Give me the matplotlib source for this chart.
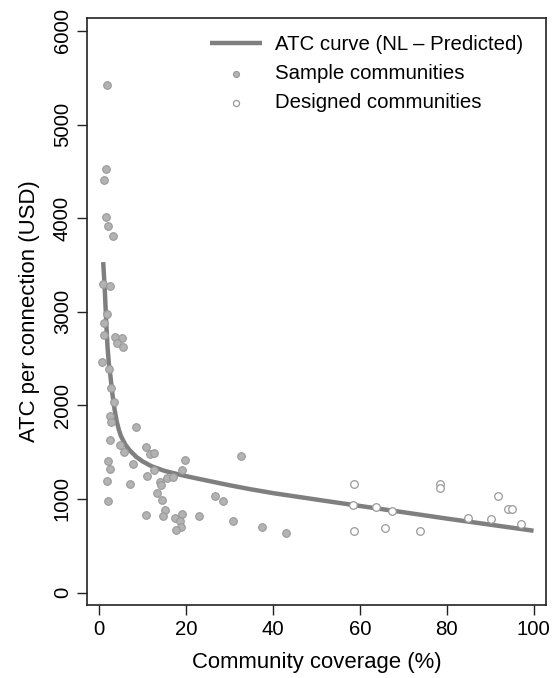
import numpy as np
import matplotlib.pyplot as plt

plt.rcParams['font.family'] = ['Liberation Sans', 'DejaVu Sans']

# ATC curve (NL - Predicted)
curve_x = [0.9, 1.1, 1.3, 1.6, 1.9, 2.2, 2.6, 3.0, 3.5, 4.0, 4.5, 5.0, 6.0,
           7.0, 8.5, 10.0, 12.0, 15.0, 18.0, 20.0, 25.0, 30.0, 35.0, 40.0,
           50.0, 60.0, 70.0, 80.0, 90.0, 100.0]
curve_y = [3530, 3370, 3200, 2880, 2620, 2450, 2300, 2130, 1960, 1830, 1740,
           1670, 1580, 1520, 1450, 1400, 1350, 1300, 1265, 1243, 1194, 1146,
           1102, 1062, 993, 925, 858, 790, 725, 660]

# Sample communities (filled)
sample_x = [1.7, 1.5, 1.08, 1.5, 1.9, 3.2, 0.92, 2.5, 1.7, 1.08, 1.08, 3.6,
            5.3, 4.0, 5.5, 0.7, 2.2, 2.8, 3.4, 2.4, 2.6, 8.4, 2.5, 4.7,
            5.8, 10.7, 11.7, 12.6, 2.0, 2.5, 7.7, 19.7, 32.6, 12.6, 19.0,
            11.1, 15.5, 16.9, 13.9, 14.2, 1.85, 7.0, 13.4, 14.5, 2.0,
            26.7, 28.4, 15.2, 14.7, 10.7, 17.4, 19.0, 18.6, 18.9, 17.6,
            23.0, 30.9, 37.5, 42.9]
sample_y = [5420, 4523, 4406, 4014, 3918, 3808, 3300, 3280, 2980, 2876, 2751,
            2726, 2714, 2662, 2626, 2463, 2387, 2189, 2033, 1883, 1819, 1770,
            1630, 1580, 1497, 1552, 1479, 1488, 1409, 1324, 1375, 1420, 1454,
            1314, 1310, 1247, 1228, 1230, 1185, 1146, 1194, 1160, 1068, 984,
            979, 1032, 982, 882, 820, 831, 795, 837, 760, 702, 666, 822, 765,
            698, 634]

# Designed communities (hollow)
designed_x = [58.6, 58.4, 58.6, 63.8, 67.4, 65.9, 73.8, 78.4, 78.4, 84.8,
              90.1, 91.9, 94.2, 95.0, 97.0]
designed_y = [1164, 936, 662, 912, 872, 687, 662, 1160, 1121, 801, 790, 1029,
              894, 894, 730]

fig = plt.figure(figsize=(5.55, 6.78), dpi=100)
ax = fig.add_axes([0.157, 0.108, 0.827, 0.865])

ax.plot(curve_x, curve_y, color='#7f7f7f', lw=3.2, solid_capstyle='butt',
        label='ATC curve (NL \u2013 Predicted)', zorder=2)
ax.scatter(sample_x, sample_y, s=30, facecolor='#b3b3b3', edgecolor='#999999',
           linewidths=0.8, label='Sample communities', zorder=3)
ax.scatter(designed_x, designed_y, s=30, facecolor='white',
           edgecolor='#999999', linewidths=0.9,
           label='Designed communities', zorder=3)

ax.set_xlim(-2.8, 102.9)
ax.set_ylim(-131, 6135)
ax.set_xticks([0, 20, 40, 60, 80, 100])
ax.set_yticks([0, 1000, 2000, 3000, 4000, 5000, 6000])
ax.tick_params(direction='out', length=7, width=1.0, color='#222222',
               labelsize=14.7, pad=4)
for lab in ax.get_yticklabels():
    lab.set_rotation(90)
    lab.set_va('center')
for sp in ax.spines.values():
    sp.set_linewidth(1.2)
    sp.set_color('#222222')

ax.set_xlabel('Community coverage (%)', fontsize=15.9, labelpad=9)
ax.set_ylabel('ATC per connection (USD)', fontsize=15.9, labelpad=9)

leg = ax.legend(loc='upper left', bbox_to_anchor=(210 / 555, 1 - 35 / 678),
                bbox_transform=fig.transFigure, frameon=False, fontsize=14.7,
                handlelength=2.55, handletextpad=0.62, labelspacing=0.5,
                markerscale=0.8, borderpad=0, borderaxespad=0)

fig.savefig('out.png', dpi=100)
